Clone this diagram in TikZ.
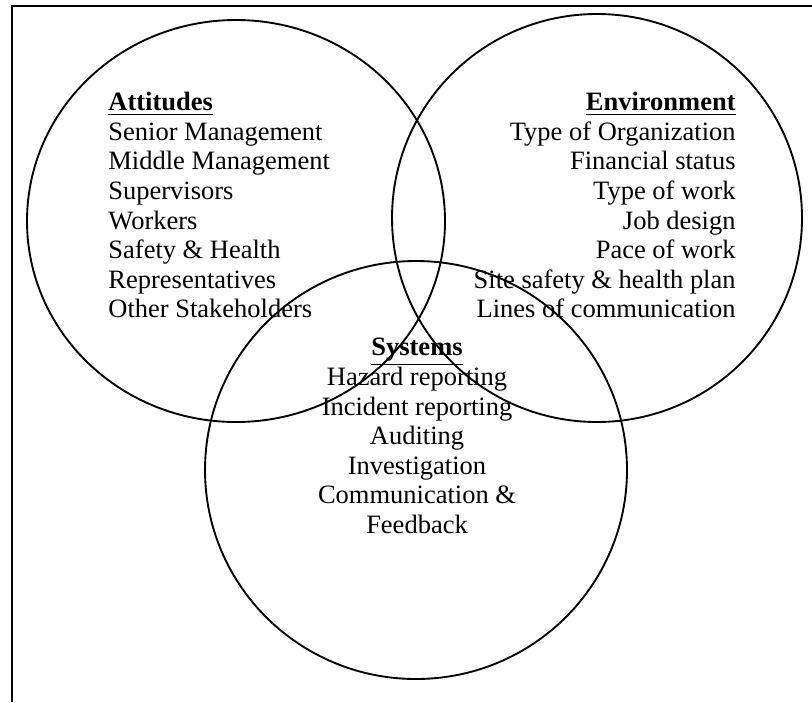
\documentclass[tikz,border=0pt]{standalone}
\usepackage{fontspec}
\setmainfont{Liberation Serif}
\usepackage{tikz}

\begin{document}
\begin{tikzpicture}[
        x=0.453pt, y=-0.453pt,
        ring/.style={draw=black, line width=0.85pt},
        frame/.style={draw=black, line width=1.1pt},
        listtext/.style={inner sep=0pt, font=\fontsize{12}{13.4}\selectfont}
    ]
        \useasboundingbox (0,0) rectangle (812,702);

        % open frame, top and left edge only
        \draw[frame] (812,6) -- (12,6) -- (12,702);

        \coordinate (attC) at (236,221);
        \coordinate (envC) at (597,218);
        \coordinate (sysC) at (416,470);

        \draw[ring] (attC) ellipse [x radius=209, y radius=201];
        \draw[ring] (envC) ellipse [x radius=205, y radius=204];
        \draw[ring] (sysC) ellipse [x radius=211, y radius=209];

        \node[listtext, anchor=north west, align=left] (attitudes) at (108,92)
            {\underline{\textbf{Attitudes}}\\Senior Management\\Middle Management\\Supervisors\\Workers\\Safety \& Health\\Representatives\\Other Stakeholders};
        \node[listtext, anchor=north east, align=right] (environment) at (736,92)
            {\underline{\textbf{Environment}}\\Type of Organization\\Financial status\\Type of work\\Job design\\Pace of work\\Site safety \& health plan\\Lines of communication};
        \node[listtext, anchor=north, align=center] (systems) at (417,338)
            {\underline{\textbf{Systems}}\\Hazard reporting\\Incident reporting\\Auditing\\Investigation\\Communication \&\\Feedback};
    \end{tikzpicture}
\end{document}
